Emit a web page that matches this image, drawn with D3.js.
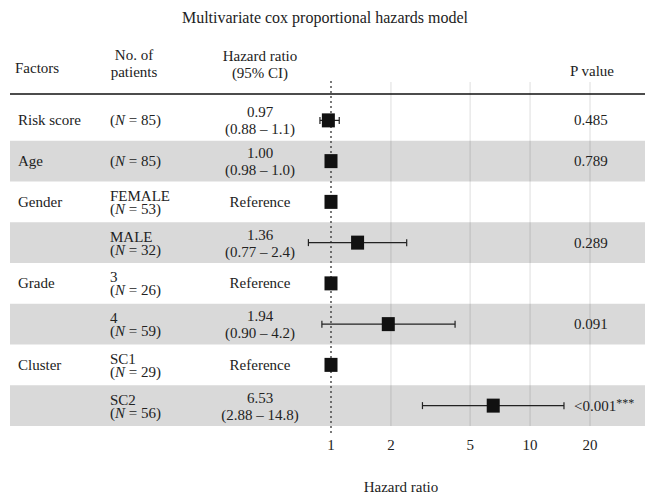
<!DOCTYPE html>
<html>
<head>
<meta charset="utf-8">
<script src="https://cdn.jsdelivr.net/npm/d3@7"></script>
<style>
  body { margin: 0; background: #fff; }
  text { font-family: "Liberation Serif", "DejaVu Serif", serif; fill: #222; }
</style>
</head>
<body>
<div id="chart"></div>
<script>
// forest plot data, one entry per row
var factors = ["Risk score", "Age", "Gender", "", "Grade", "", "Cluster", ""];
var levels = ["", "", "FEMALE", "MALE", "3", "4", "SC1", "SC2"];
var nPatients = [85, 85, 53, 32, 26, 59, 29, 56];
var hr = [0.97, 1.00, 1, 1.36, 1, 1.94, 1, 6.53];
var lower = [0.88, 0.98, null, 0.77, null, 0.90, null, 2.88];
var upper = [1.1, 1.0, null, 2.4, null, 4.2, null, 14.8];
var hrLabels = ["0.97", "1.00", "Reference", "1.36", "Reference", "1.94", "Reference", "6.53"];
var ciLabels = ["(0.88 \u2013 1.1)", "(0.98 \u2013 1.0)", "", "(0.77 \u2013 2.4)", "", "(0.90 \u2013 4.2)", "", "(2.88 \u2013 14.8)"];
var pValues = ["0.485", "0.789", "", "0.289", "", "0.091", "", "<0.001"];
var stars = ["", "", "", "", "", "", "", "***"];
var ticks = [1, 2, 5, 10, 20];

var width = 645, height = 495;
var rows = d3.range(factors.length);

var svg = d3.select('#chart').append('svg')
    .attr('width', width)
    .attr('height', height);

var x = d3.scaleLog()
    .domain([1, 20])
    .range([331, 590]);

var y = d3.scaleBand()
    .domain(rows)
    .range([100, 426]);

// striped rows
svg.append('g').selectAll('rect')
    .data(rows.filter(function(i) { return i % 2 == 1; }))
    .enter().append('rect')
    .attr('x', 10)
    .attr('y', function(i) { return y(i); })
    .attr('width', width - 10)
    .attr('height', y.bandwidth())
    .attr('fill', '#d9d9d9');

// grid
svg.append('g').selectAll('line')
    .data(ticks.slice(1))
    .enter().append('line')
    .attr('x1', function(d) { return x(d); })
    .attr('x2', function(d) { return x(d); })
    .attr('y1', 82)
    .attr('y2', 426)
    .attr('stroke', '#000')
    .attr('stroke-opacity', 0.09)
    .attr('stroke-width', 1.5);

// reference line at HR = 1
svg.append('line')
    .attr('x1', x(1)).attr('x2', x(1))
    .attr('y1', 81).attr('y2', 433)
    .attr('stroke', '#333')
    .attr('stroke-width', 1.3)
    .attr('stroke-dasharray', '2,3');

// header rule
svg.append('line')
    .attr('x1', 10).attr('x2', width)
    .attr('y1', 94).attr('y2', 94)
    .attr('stroke', '#111')
    .attr('stroke-width', 1.5);

svg.append('text')
    .attr('x', 325).attr('y', 23)
    .attr('text-anchor', 'middle')
    .style('font-size', '16px')
    .text('Multivariate cox proportional hazards model');

// column headers
var hdr = svg.append('g').style('font-size', '15px');
hdr.append('text').attr('x', 15).attr('y', 73).text('Factors');
hdr.append('text').attr('x', 134).attr('y', 60).attr('text-anchor', 'middle').text('No. of');
hdr.append('text').attr('x', 134).attr('y', 77).attr('text-anchor', 'middle').text('patients');
hdr.append('text').attr('x', 260).attr('y', 61).attr('text-anchor', 'middle').text('Hazard ratio');
hdr.append('text').attr('x', 260).attr('y', 78).attr('text-anchor', 'middle').text('(95% CI)');
hdr.append('text').attr('x', 592).attr('y', 76).attr('text-anchor', 'middle').text('P value');

var row = svg.append('g').selectAll('g')
    .data(rows)
    .enter().append('g')
    .attr('transform', function(i) { return 'translate(0,' + (y(i) + y.bandwidth() / 2) + ')'; })
    .style('font-size', '15px');

row.append('text')
    .attr('x', 18).attr('y', 5)
    .text(function(i) { return factors[i]; });

// patients column
var nt = row.append('text').attr('x', 110);
nt.append('tspan')
    .attr('x', 110)
    .attr('y', -1)
    .text(function(i) { return levels[i]; });
nt.append('tspan')
    .attr('x', 110)
    .attr('y', function(i) { return levels[i] ? 12 : 5; })
    .text('(');
nt.append('tspan').style('font-style', 'italic').text('N');
nt.append('tspan').text(function(i) { return ' = ' + nPatients[i] + ')'; });

// HR column
row.append('text')
    .attr('x', 260)
    .attr('y', function(i) { return ciLabels[i] ? -3 : 5; })
    .attr('text-anchor', 'middle')
    .text(function(i) { return hrLabels[i]; });
row.append('text')
    .attr('x', 260).attr('y', 14)
    .attr('text-anchor', 'middle')
    .text(function(i) { return ciLabels[i]; });

// p values
var pt = row.append('text').attr('x', 574).attr('y', 5);
pt.append('tspan').text(function(i) { return pValues[i]; });
pt.append('tspan').attr('dy', -4).style('font-size', '12px')
    .text(function(i) { return stars[i]; });

// CI whiskers
var ci = row.filter(function(i) { return lower[i] != null; });
ci.append('line')
    .attr('x1', function(i) { return x(lower[i]); })
    .attr('x2', function(i) { return x(upper[i]); })
    .attr('stroke', '#222').attr('stroke-width', 1.2);
ci.append('line')
    .attr('x1', function(i) { return x(lower[i]); })
    .attr('x2', function(i) { return x(lower[i]); })
    .attr('y1', -3.5).attr('y2', 3.5)
    .attr('stroke', '#222').attr('stroke-width', 1.2);
ci.append('line')
    .attr('x1', function(i) { return x(upper[i]); })
    .attr('x2', function(i) { return x(upper[i]); })
    .attr('y1', -3.5).attr('y2', 3.5)
    .attr('stroke', '#222').attr('stroke-width', 1.2);

// point estimates
row.append('rect')
    .attr('x', function(i) { return x(hr[i]) - 6.5; })
    .attr('y', -7)
    .attr('width', 13)
    .attr('height', 14)
    .attr('fill', '#111');

// x axis labels
svg.append('g').selectAll('text')
    .data(ticks)
    .enter().append('text')
    .attr('x', function(d) { return x(d); })
    .attr('y', 450)
    .attr('text-anchor', 'middle')
    .style('font-size', '15px')
    .text(function(d) { return d; });

svg.append('text')
    .attr('x', 401).attr('y', 492)
    .attr('text-anchor', 'middle')
    .style('font-size', '15px')
    .text('Hazard ratio');
</script>
</body>
</html>
